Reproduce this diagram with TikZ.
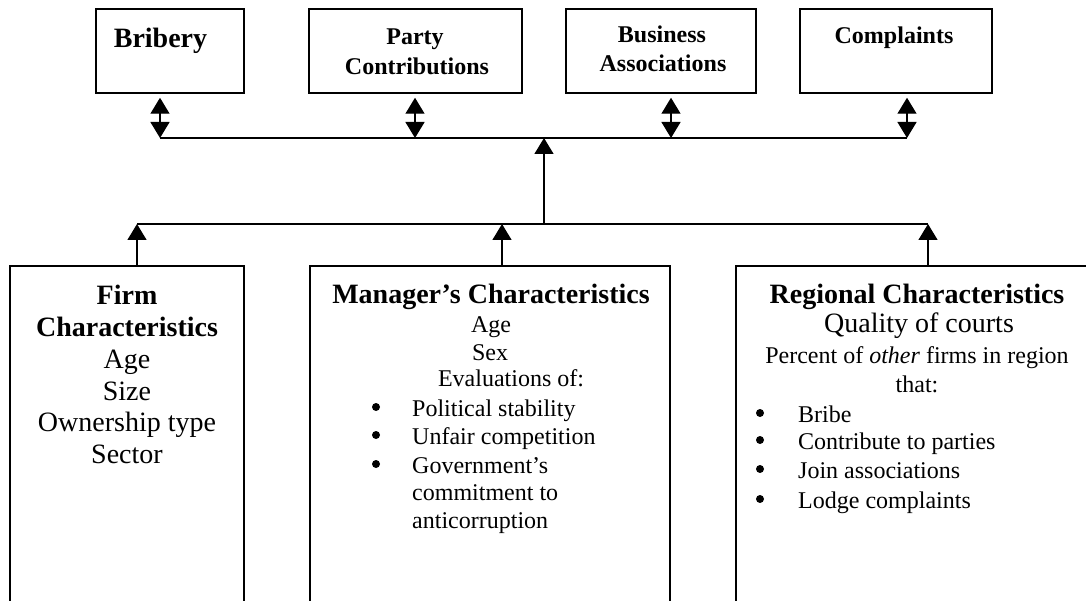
\documentclass[tikz,border=0pt]{standalone}
\usepackage{fontspec}
\setmainfont{Liberation Serif}
\usetikzlibrary{arrows.meta}
\tikzset{
  box/.style={draw, line width=1.5pt, rectangle, inner sep=0pt, minimum height=84pt},
  lowbox/.style={draw, line width=1.5pt, rectangle, inner sep=0pt, minimum height=374pt},
  conn/.style={line width=1.4pt},
  arr/.style={conn, -{Triangle[length=16pt,width=19pt]}},
  darr/.style={conn, {Triangle[length=16pt,width=19pt]}-{Triangle[length=16pt,width=19pt]}},
  txt/.style={inner sep=0pt, anchor=base},
  big/.style={txt, font=\fontsize{28}{32}\selectfont},
  bigb/.style={txt, font=\fontsize{28}{32}\selectfont\bfseries},
  small/.style={txt, font=\fontsize{24}{28}\selectfont},
  smallb/.style={txt, font=\fontsize{24}{28}\selectfont\bfseries},
  item/.style={small, anchor=base west},
  dot/.style={circle, fill=black, inner sep=0pt, minimum size=8pt},
}
\begin{document}
\begin{tikzpicture}[x=1pt, y=-1pt]
\useasboundingbox (0,0) rectangle (1086,601);
\clip (0,0) rectangle (1086,601);

% top boxes
\node[box, minimum width=148pt] (bribery) at (170,51) {};
\node[box, minimum width=213pt] (party) at (415.5,51) {};
\node[box, minimum width=190pt] (business) at (661,51) {};
\node[box, minimum width=192pt] (complaints) at (896,51) {};

\node[bigb] (tbrib) at (160.5,48) {Bribery};
\node[smallb] (tparty) at (415,45) {Party};
\node[smallb] (tcontr) at (417,75) {Contributions};
\node[smallb] (tbus) at (662,43) {Business};
\node[smallb] (tassoc) at (663,72) {Associations};
\node[smallb] (tcompl) at (894,44) {Complaints};

% lower boxes (cut off by the page edge)
\node[lowbox, minimum width=234pt] (firm) at (127,453) {};
\node[lowbox, minimum width=360pt] (manager) at (490,453) {};
\node[lowbox, minimum width=364pt] (regional) at (918,453) {};

% bus coordinates
\coordinate (t1) at (160,138);
\coordinate (t2) at (415,138);
\coordinate (t3) at (671,138);
\coordinate (t4) at (907,138);
\coordinate (ct) at (544,138);
\coordinate (cb) at (544,224);
\coordinate (l1) at (137,224);
\coordinate (l2) at (502,224);
\coordinate (l3) at (928,224);

\draw[conn] (t1) -- (t4);
\draw[conn] (l1) -- (l3);
\draw[arr] (cb) -- (ct);

\draw[darr, shorten <=4pt] (t1 |- bribery.south) -- (t1);
\draw[darr, shorten <=4pt] (t2 |- party.south) -- (t2);
\draw[darr, shorten <=4pt] (t3 |- business.south) -- (t3);
\draw[darr, shorten <=4pt] (t4 |- complaints.south) -- (t4);

\draw[arr] (l1 |- firm.north) -- (l1);
\draw[arr] (l2 |- manager.north) -- (l2);
\draw[arr] (l3 |- regional.north) -- (l3);

% firm text
\node[bigb] (f1) at (127,305) {Firm};
\node[bigb] (f2) at (127,337) {Characteristics};
\node[big] (f3) at (127,368) {Age};
\node[big] (f4) at (127,400) {Size};
\node[big] (f5) at (127,431) {Ownership type};
\node[big] (f6) at (127,463) {Sector};

% manager text
\node[bigb] (m1) at (491,304) {Manager’s Characteristics};
\node[small] (m2) at (491,332) {Age};
\node[small] (m3) at (490,360) {Sex};
\node[small] (m4) at (511,386) {Evaluations of:};
\node[dot] (mb1) at (376,407) {};
\node[dot] (mb2) at (376,435) {};
\node[dot] (mb3) at (376,464) {};
\node[item] (m5) at (412,416) {Political stability};
\node[item] (m6) at (412,444) {Unfair competition};
\node[item] (m7) at (412,473) {Government’s};
\node[item] (m8) at (412,500) {commitment to};
\node[item] (m9) at (412,528) {anticorruption};

% regional text
\node[bigb] (r1) at (917,304) {Regional Characteristics};
\node[big] (r2) at (919,333) {Quality of courts};
\node[small] (r3) at (917,363) {Percent of \textit{other} firms in region};
\node[small] (r4) at (917,392) {that:};
\node[dot] (rb1) at (760,413) {};
\node[dot] (rb2) at (760,440) {};
\node[dot] (rb3) at (760,469) {};
\node[dot] (rb4) at (760,499) {};
\node[item] (r5) at (798,422) {Bribe};
\node[item] (r6) at (798,449) {Contribute to parties};
\node[item] (r7) at (798,478) {Join associations};
\node[item] (r8) at (798,508) {Lodge complaints};
\end{tikzpicture}
\end{document}
